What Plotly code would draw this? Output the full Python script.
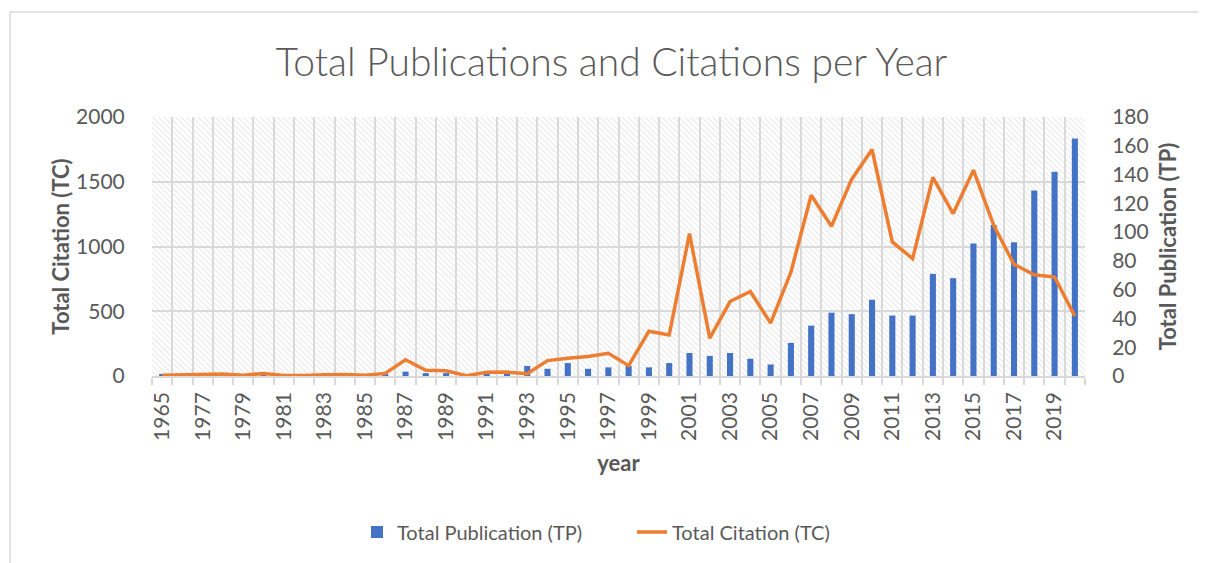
import base64
import plotly.graph_objects as go

# ---- data ----
years = ["1965"] + [str(y) for y in range(1976, 2021)]
total_publication = [1, 1, 1, 1, 1, 1, 1, 1, 1, 1, 1, 1,
                     3, 2, 2, 1, 2, 2, 7, 5, 9, 5, 6, 7, 6, 9,
                     16, 14, 16, 12, 8, 23, 35, 44, 43, 53, 42, 42,
                     71, 68, 92, 105, 93, 129, 142, 165]
total_citation = [5, 10, 15, 15, 5, 20, 3, 3, 10, 12, 6, 20,
                  126, 44, 41, 2, 28, 30, 18, 119, 137, 150, 175, 80, 346, 317,
                  1099, 292, 575, 653, 408, 802, 1396, 1156, 1520, 1749, 1035, 906,
                  1533, 1254, 1589, 1164, 862, 782, 764, 462]
tick_text = [y if i % 2 == 0 else "" for i, y in enumerate(years)]

FONT = "Lato"
GRAY = "#595959"
GRID = "#d9d9d9"
BLUE = "#4472C4"
ORANGE = "#ED7D31"

# page body has an 8px margin: compensate so the plot area lands at x 152-1085, y 117-376
OFF = 8
L, R, T, B = 152 - OFF, 121 + OFF, 117 - OFF, 187 + OFF
PW, PH = 933, 259

svg = ('<svg xmlns="http://www.w3.org/2000/svg" width="933" height="259">'
       '<defs><pattern id="p" width="4" height="4" patternUnits="userSpaceOnUse" '
       'patternTransform="rotate(-45)"><line x1="0" y1="0" x2="0" y2="4" '
       'stroke="#d5d5d5" stroke-width="1.1"/></pattern></defs>'
       '<rect width="100%" height="100%" fill="url(#p)"/></svg>')
svg_uri = "data:image/svg+xml;base64," + base64.b64encode(svg.encode()).decode()

fig = go.Figure()
fig.add_trace(go.Bar(
    x=years, y=total_publication, name="Total Publication (TP)",
    marker=dict(color=BLUE, line=dict(width=0)), yaxis="y", legend="legend",
    showlegend=True,
))
fig.add_trace(go.Scatter(
    x=years, y=total_citation, name="Total Citation (TC)", mode="lines",
    line=dict(color=ORANGE, width=3.5), yaxis="y2", legend="legend2",
    showlegend=True,
))

legend_common = dict(orientation="h", xanchor="left",
                     y=(376 - 532) / PH, yanchor="middle",
                     font=dict(size=20, color=GRAY), bgcolor="rgba(0,0,0,0)",
                     visible=True)

fig.update_layout(
    width=1206, height=563,
    showlegend=True,
    margin=dict(l=L, r=R, t=T, b=B, autoexpand=False),
    paper_bgcolor="white", plot_bgcolor="rgba(0,0,0,0)",
    font=dict(family=FONT, color=GRAY),
    bargap=0.7,
    title=dict(text="Total Publications and Citations per Year",
               font=dict(family=FONT, size=39, color=GRAY, weight=300),
               x=(611.5 - 152) / PW, xref="paper", xanchor="center",
               y=1 - (62 - OFF) / 563, yref="container", yanchor="middle"),
    xaxis=dict(
        type="category", tickson="boundaries", automargin=False,
        tickvals=years, ticktext=tick_text, tickangle=-90,
        tickfont=dict(size=21, color=GRAY),
        showgrid=True, gridcolor=GRID, gridwidth=1.5,
        ticks="outside", ticklen=7, tickcolor=GRID, tickwidth=1.5,
        ticklabelstandoff=6,
        showline=True, linecolor=GRID, linewidth=1.5,
        title=dict(text="<b>year</b>", font=dict(size=22, color=GRAY), standoff=16),
    ),
    yaxis=dict(
        side="right", range=[0, 180], dtick=20, automargin=False,
        showgrid=False, zeroline=False, showline=False,
        ticks="outside", ticklen=22, tickcolor="rgba(0,0,0,0)",
        tickfont=dict(size=21, color=GRAY),
        title=dict(text="<b>Total Publication (TP)</b>", font=dict(size=22, color=GRAY), standoff=12),
    ),
    yaxis2=dict(
        side="left", overlaying="y", range=[0, 2000], dtick=500, automargin=False,
        showgrid=True, gridcolor=GRID, gridwidth=1.5,
        zeroline=False, showline=False,
        ticks="outside", ticklen=22, tickcolor="rgba(0,0,0,0)",
        tickfont=dict(size=21, color=GRAY),
        title=dict(text="<b>Total Citation (TC)</b>", font=dict(size=22, color=GRAY), standoff=0),
    ),
    legend=dict(x=(357 - 152) / PW, **legend_common),
    legend2=dict(x=(632 - 152) / PW, **legend_common),
    images=[dict(source=svg_uri, xref="paper", yref="paper", x=0, y=1,
                 sizex=1, sizey=1, sizing="stretch", layer="below",
                 xanchor="left", yanchor="top")],
    shapes=[
        dict(type="line", xref="paper", yref="paper", x0=(10 - 152) / PW, x1=1.3,
             y0=(376 - 12) / PH, y1=(376 - 12) / PH,
             line=dict(color=GRID, width=1.5)),
        dict(type="line", xref="paper", yref="paper", x0=(10 - 152) / PW, x1=(10 - 152) / PW,
             y0=(376 - 12) / PH, y1=-0.9, line=dict(color=GRID, width=1.5)),
    ],
)

fig.write_html("out.html")
